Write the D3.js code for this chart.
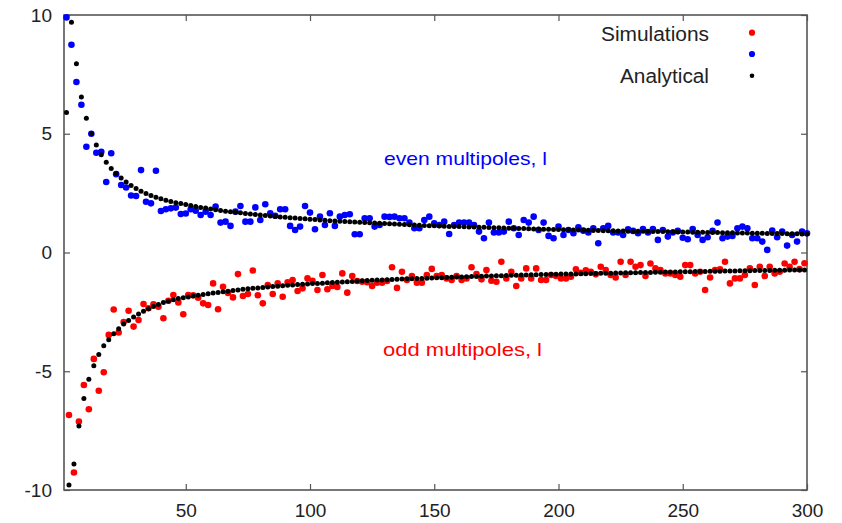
<!DOCTYPE html>
<html>
<head>
<meta charset="utf-8">
<script src="https://cdn.jsdelivr.net/npm/d3@7"></script>
<style>
  html, body { margin: 0; padding: 0; background: #ffffff; }
  svg { display: block; font-family: "Liberation Sans", Arial, Helvetica, sans-serif; }
</style>
</head>
<body>
<svg id="chart" width="842" height="523"></svg>
<script>
// ---------------- DATA ----------------
// multipole index l: even and odd
const evenL = d3.range(2, 301, 2);   // 2..300
const oddL  = d3.range(3, 300, 2);   // 3..299

// Simulations, even multipoles (blue)
const simEven = [
  9.9, 8.75, 7.18, 6.22, 4.45, 5.0, 4.2, 4.24, 2.97, 4.18,
  3.3, 2.84, 2.74, 2.40, 2.38, 3.47, 2.14, 2.07, 3.44, 1.75,
  1.82, 1.86, 1.89, 1.62, 1.64, 1.82, 1.76, 1.58, 1.72, 1.58,
  1.93, 1.26, 1.30, 1.12, 1.72, 1.96, 1.30, 1.30, 1.90, 1.37,
  2.03, 1.65, 1.55, 1.82, 1.82, 1.12, 0.95, 1.09, 1.96, 1.68,
  0.98, 1.51, 1.16, 1.65, 1.12, 1.51, 1.58, 1.61, 0.77, 0.77,
  1.44, 1.44, 1.09, 1.16, 1.51, 1.50, 1.51, 1.44, 1.44, 1.26,
  1.02, 1.02, 1.37, 1.51, 1.23, 1.16, 1.30, 0.78, 1.16, 1.26,
  1.26, 1.26, 1.16, 0.88, 0.60, 1.26, 0.84, 0.84, 0.88, 1.30,
  1.02, 0.74, 1.37, 1.26, 1.51, 0.95, 1.26, 0.70, 0.60, 1.09,
  0.74, 0.95, 0.81, 1.06, 0.92, 0.84, 1.02, 0.39, 1.02, 1.12,
  0.84, 0.84, 0.74, 0.98, 0.91, 0.81, 0.99, 0.84, 0.99, 0.53,
  0.95, 0.67, 0.84, 0.91, 0.62, 0.56, 0.99, 0.74, 0.53, 0.64,
  0.91, 1.26, 0.60, 0.67, 0.70, 1.02, 1.09, 1.02, 0.60, 0.60,
  0.46, 0.11, 0.92, 0.64, 0.88, 0.29, 0.74, 0.46, 0.88, 0.81
];

// Analytical, even multipoles (black)
const anaEven = [
  5.9, 9.7, 7.95, 6.55, 5.65, 5.0, 4.53, 4.12, 3.8, 3.54,
  3.33, 3.14, 2.97, 2.82, 2.69, 2.58, 2.48, 2.40, 2.33, 2.26,
  2.20, 2.15, 2.10, 2.06, 2.02, 1.98, 1.94, 1.90, 1.87, 1.83,
  1.80, 1.77, 1.74, 1.72, 1.69, 1.67, 1.64, 1.62, 1.60, 1.58,
  1.56, 1.54, 1.52, 1.50, 1.48, 1.46, 1.45, 1.43, 1.42, 1.40,
  1.39, 1.37, 1.36, 1.34, 1.33, 1.32, 1.31, 1.29, 1.28, 1.27,
  1.26, 1.25, 1.24, 1.23, 1.22, 1.21, 1.20, 1.19, 1.18, 1.17,
  1.16, 1.15, 1.14, 1.13, 1.13, 1.12, 1.11, 1.10, 1.10, 1.09,
  1.08, 1.07, 1.07, 1.06, 1.06, 1.05, 1.04, 1.04, 1.03, 1.02,
  1.02, 1.01, 1.01, 1.00, 0.99, 0.99, 0.98, 0.98, 0.97, 0.97,
  0.96, 0.96, 0.95, 0.95, 0.94, 0.94, 0.93, 0.93, 0.92, 0.92,
  0.92, 0.91, 0.91, 0.90, 0.90, 0.90, 0.89, 0.89, 0.88, 0.88,
  0.88, 0.87, 0.87, 0.86, 0.86, 0.86, 0.85, 0.85, 0.85, 0.84,
  0.84, 0.84, 0.83, 0.83, 0.83, 0.82, 0.82, 0.82, 0.81, 0.81,
  0.81, 0.80, 0.80, 0.80, 0.80, 0.79, 0.79, 0.79, 0.78, 0.78
];

// Simulations, odd multipoles (red)
const simOdd = [
  -6.84, -9.26, -7.12, -5.58, -6.6, -4.48, -5.82, -5.04, -3.47, -2.4,
  -3.37, -2.93, -2.45, -3.12, -2.84, -2.17, -2.35, -2.18, -2.28, -2.77,
  -2.03, -1.79, -2.1, -2.6, -1.79, -1.8, -1.9, -2.14, -2.21, -1.30,
  -2.39, -1.44, -1.7, -1.89, -0.91, -1.83, -1.75, -0.76, -1.80, -2.14,
  -1.37, -1.75, -1.30, -1.86, -1.25, -1.16, -1.62, -1.51, -1.09, -1.19,
  -1.58, -0.95, -1.55, -1.41, -1.45, -0.88, -1.69, -0.99, -1.2, -1.23,
  -1.25, -1.41, -1.27, -1.27, -1.2, -0.62, -1.49, -0.81, -1.16, -0.99,
  -1.27, -1.27, -0.95, -0.69, -0.99, -0.95, -1.09, -1.16, -0.99, -1.16,
  -1.09, -0.62, -0.91, -1.13, -0.74, -1.19, -1.23, -0.39, -1.09, -0.81,
  -1.41, -1.09, -0.67, -1.09, -0.67, -1.16, -1.16, -0.95, -0.99, -1.09,
  -1.09, -1.02, -0.71, -0.85, -0.75, -0.81, -0.92, -0.60, -0.74, -0.95,
  -1.05, -0.39, -0.95, -0.39, -0.60, -0.53, -0.99, -0.46, -0.67, -0.74,
  -0.88, -0.88, -0.95, -1.02, -0.53, -0.53, -0.88, -0.81, -1.58, -1.05,
  -0.74, -0.71, -0.39, -1.30, -1.09, -1.09, -0.95, -0.67, -1.37, -0.60,
  -0.99, -0.60, -0.88, -0.81, -0.46, -0.60, -0.39, -0.70, -0.45
];

// Analytical, odd multipoles (black)
const anaOdd = [
  -9.79, -8.9, -7.3, -6.15, -5.34, -4.77, -4.29, -3.93, -3.67, -3.42,
  -3.21, -3.01, -2.86, -2.72, -2.59, -2.47, -2.37, -2.27, -2.19, -2.11,
  -2.05, -1.99, -1.94, -1.90, -1.87, -1.83, -1.80, -1.77, -1.74, -1.70,
  -1.68, -1.65, -1.63, -1.60, -1.58, -1.55, -1.53, -1.51, -1.49, -1.47,
  -1.45, -1.43, -1.42, -1.40, -1.38, -1.37, -1.35, -1.34, -1.33, -1.31,
  -1.30, -1.29, -1.27, -1.26, -1.25, -1.24, -1.23, -1.22, -1.20, -1.19,
  -1.18, -1.17, -1.16, -1.16, -1.15, -1.14, -1.13, -1.12, -1.11, -1.10,
  -1.09, -1.09, -1.08, -1.07, -1.06, -1.06, -1.05, -1.04, -1.03, -1.03,
  -1.02, -1.01, -1.01, -1.00, -0.99, -0.99, -0.98, -0.98, -0.97, -0.96,
  -0.96, -0.95, -0.95, -0.94, -0.94, -0.93, -0.93, -0.92, -0.92, -0.91,
  -0.91, -0.90, -0.90, -0.89, -0.89, -0.88, -0.88, -0.87, -0.87, -0.87,
  -0.86, -0.86, -0.85, -0.85, -0.85, -0.84, -0.84, -0.84, -0.83, -0.83,
  -0.82, -0.82, -0.82, -0.81, -0.81, -0.81, -0.80, -0.80, -0.80, -0.79,
  -0.79, -0.79, -0.78, -0.78, -0.78, -0.77, -0.77, -0.77, -0.76, -0.76,
  -0.76, -0.76, -0.75, -0.75, -0.75, -0.74, -0.74, -0.74, -0.74
];

const xTicks = [50, 100, 150, 200, 250, 300];
const yTicks = [-10, -5, 0, 5, 10];
const legendLabels = ["Simulations", "Analytical"];
const annotations = ["even multipoles, l", "odd multipoles, l"];

// ---------------- CHART ----------------
const svg = d3.select("#chart");
const mLeft = 64, mRight = 807, mTop = 15, mBottom = 490;
const x = d3.scaleLinear().domain([1, 300]).range([mLeft, mRight]);
const y = d3.scaleLinear().domain([-10, 10]).range([mBottom, mTop]);

const frameColor = "#555555";
const textColor = "#222222";
const BLUE = "#0000ff", RED = "#ff0000", BLACK = "#000000";
const fmt = d => String(d);   // plain hyphen for negatives, as in the original

// axes (ticks inward, mirrored)
const tickLen = 6;
const xAxisB = d3.axisBottom(x).tickValues(xTicks).tickSize(-tickLen).tickPadding(14).tickFormat(fmt);
const xAxisT = d3.axisTop(x).tickValues(xTicks).tickSize(-tickLen).tickFormat("");
const yAxisL = d3.axisLeft(y).tickValues(yTicks).tickSize(-tickLen).tickPadding(12).tickFormat(fmt);
const yAxisR = d3.axisRight(y).tickValues(yTicks).tickSize(-tickLen).tickFormat("");

function styleAxis(g) {
  g.select(".domain").remove();
  g.selectAll(".tick line").attr("stroke", frameColor).attr("stroke-width", 1.2);
  g.selectAll(".tick text").attr("fill", textColor).attr("font-size", 19)
    .attr("font-family", "'Liberation Sans', Arial, sans-serif");
}
svg.append("g").attr("transform", `translate(0,${mBottom})`).call(xAxisB).call(styleAxis);
svg.append("g").attr("transform", `translate(0,${mTop})`).call(xAxisT).call(styleAxis);
svg.append("g").attr("transform", `translate(${mLeft},0)`).call(yAxisL).call(styleAxis);
svg.append("g").attr("transform", `translate(${mRight},0)`).call(yAxisR).call(styleAxis);

// frame
svg.append("rect")
  .attr("x", mLeft).attr("y", mTop)
  .attr("width", mRight - mLeft).attr("height", mBottom - mTop)
  .attr("fill", "none").attr("stroke", frameColor).attr("stroke-width", 1.6);

// data points
const plot = svg.append("g");
function dots(ls, vals, color, r) {
  plot.append("g").selectAll("circle")
    .data(ls.map((l, i) => [l, vals[i]]))
    .join("circle")
    .attr("cx", d => x(d[0]))
    .attr("cy", d => y(d[1]))
    .attr("r", r)
    .attr("fill", color);
}
dots(oddL, simOdd, RED, 3.3);
dots(evenL, simEven, BLUE, 3.3);
dots(evenL, anaEven, BLACK, 2.5);
dots(oddL, anaOdd, BLACK, 2.5);

// legend
const lg = svg.append("g").attr("font-size", 20).attr("fill", textColor);
lg.append("text").attr("x", 709).attr("y", 40.5).attr("text-anchor", "end")
  .attr("textLength", 108).attr("lengthAdjust", "spacingAndGlyphs").text(legendLabels[0]);
lg.append("text").attr("x", 709).attr("y", 83).attr("text-anchor", "end")
  .attr("textLength", 89).attr("lengthAdjust", "spacingAndGlyphs").text(legendLabels[1]);
lg.append("circle").attr("cx", 752).attr("cy", 32.7).attr("r", 3.1).attr("fill", RED);
lg.append("circle").attr("cx", 752).attr("cy", 54).attr("r", 3.1).attr("fill", BLUE);
lg.append("circle").attr("cx", 752).attr("cy", 75.7).attr("r", 2.3).attr("fill", BLACK);

// annotations
svg.append("text").attr("x", 384).attr("y", 165).attr("font-size", 19).attr("fill", BLUE)
  .attr("textLength", 163).attr("lengthAdjust", "spacingAndGlyphs").text(annotations[0]);
svg.append("text").attr("x", 383).attr("y", 356).attr("font-size", 19).attr("fill", RED)
  .attr("textLength", 159).attr("lengthAdjust", "spacingAndGlyphs").text(annotations[1]);
</script>
</body>
</html>
